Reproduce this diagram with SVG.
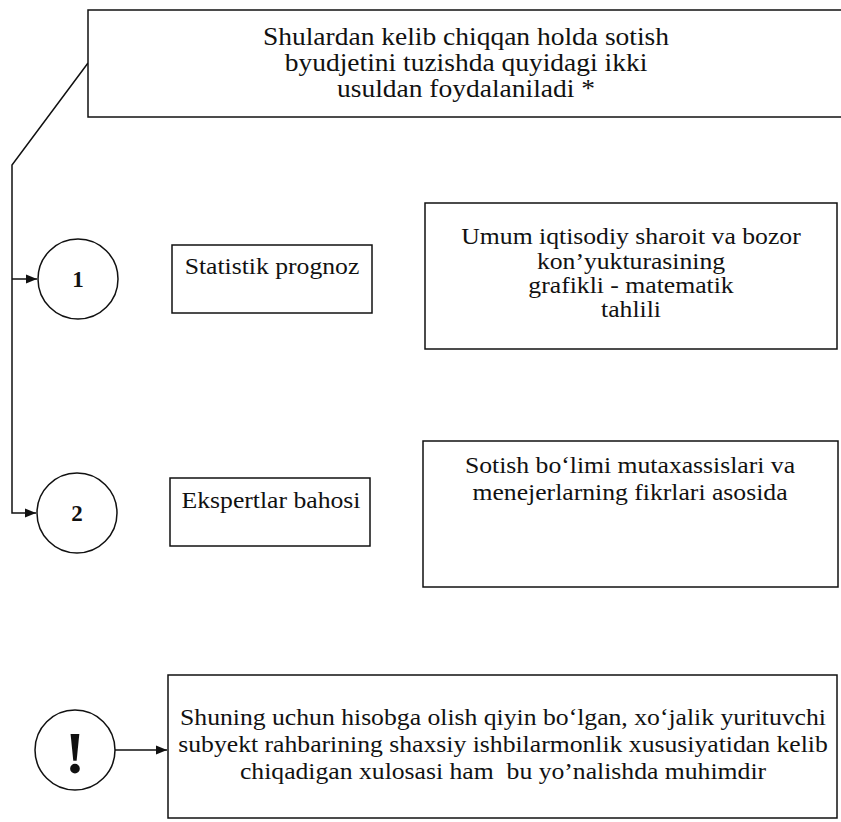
<svg xmlns="http://www.w3.org/2000/svg" width="841" height="822" viewBox="0 0 841 822">
  <style>
    .box { fill: #fff; stroke: #111; stroke-width: 1.5; }
    .circ { fill: #fff; stroke: #111; stroke-width: 1.5; }
    .conn { fill: none; stroke: #111; stroke-width: 1.5; }
    .t { font-family: "Liberation Serif", "Times New Roman", serif; font-size: 24px; fill: #111; text-anchor: middle; white-space: pre; }
    .tt { font-family: "Liberation Serif", "Times New Roman", serif; font-size: 25px; fill: #111; text-anchor: middle; white-space: pre; }
    .num { font-family: "Liberation Serif", "Times New Roman", serif; font-size: 23px; font-weight: bold; fill: #111; text-anchor: middle; }
    .ex { font-family: "Liberation Serif", "Times New Roman", serif; font-size: 60px; font-weight: bold; fill: #111; text-anchor: middle; }
  </style>
  <defs>
    <marker id="arr" markerUnits="userSpaceOnUse" markerWidth="12" markerHeight="10" refX="11" refY="5" orient="auto">
      <path d="M0,0.5 L11,5 L0,9.5 Z" fill="#111"/>
    </marker>
  </defs>

  <g id="connectors">
    <path class="conn" d="M88,63 L12,165 L12,513 L36,513" marker-end="url(#arr)"/>
    <path class="conn" d="M12,279 L37,279" marker-end="url(#arr)"/>
    <path class="conn" d="M115,750 L167,750" marker-end="url(#arr)"/>
  </g>

  <g id="title">
    <rect class="box" x="88" y="10" width="770" height="107"/>
    <g transform="translate(466 0) scale(1.1 1)">
      <text class="tt" x="0" y="45">Shulardan kelib chiqqan holda sotish</text>
      <text class="tt" x="0" y="71">byudjetini tuzishda quyidagi ikki</text>
      <text class="tt" x="0" y="97">usuldan foydalaniladi *</text>
    </g>
  </g>

  <g id="circle1">
    <circle class="circ" cx="78" cy="279" r="40"/>
    <text class="num" x="78" y="287">1</text>
  </g>

  <g id="statistik">
    <rect class="box" x="172" y="245" width="200" height="68"/>
    <g transform="translate(272 0) scale(1.07 1)">
      <text class="t" x="0" y="274">Statistik prognoz</text>
    </g>
  </g>

  <g id="desc1">
    <rect class="box" x="425" y="203" width="412" height="146"/>
    <g transform="translate(631 0) scale(1.07 1)">
      <text class="t" x="0" y="244">Umum iqtisodiy sharoit va bozor</text>
      <text class="t" x="0" y="269">kon’yukturasining</text>
      <text class="t" x="0" y="293">grafikli - matematik</text>
      <text class="t" x="0" y="317">tahlili</text>
    </g>
  </g>

  <g id="circle2">
    <circle class="circ" cx="77" cy="513" r="40"/>
    <text class="num" x="77" y="521">2</text>
  </g>

  <g id="ekspert">
    <rect class="box" x="170" y="478" width="200" height="68"/>
    <g transform="translate(271 0) scale(1.07 1)">
      <text class="t" x="0" y="508">Ekspertlar bahosi</text>
    </g>
  </g>

  <g id="desc2">
    <rect class="box" x="423" y="441" width="415" height="146"/>
    <g transform="translate(630 0) scale(1.07 1)">
      <text class="t" x="0" y="473">Sotish bo‘limi mutaxassislari va</text>
      <text class="t" x="0" y="500">menejerlarning fikrlari asosida</text>
    </g>
  </g>

  <g id="exclaim">
    <circle class="circ" cx="75" cy="750" r="40"/>
    <text class="ex" x="75" y="773">!</text>
  </g>

  <g id="note">
    <rect class="box" x="168" y="675" width="669" height="143"/>
    <g transform="translate(503 0) scale(1.07 1)">
      <text class="t" x="0" y="725">Shuning uchun hisobga olish qiyin bo‘lgan, xo‘jalik yurituvchi</text>
      <text class="t" x="0" y="752">subyekt rahbarining shaxsiy ishbilarmonlik xususiyatidan kelib</text>
      <text class="t" x="0" y="779">chiqadigan xulosasi ham  bu yo’nalishda muhimdir</text>
    </g>
  </g>
</svg>
